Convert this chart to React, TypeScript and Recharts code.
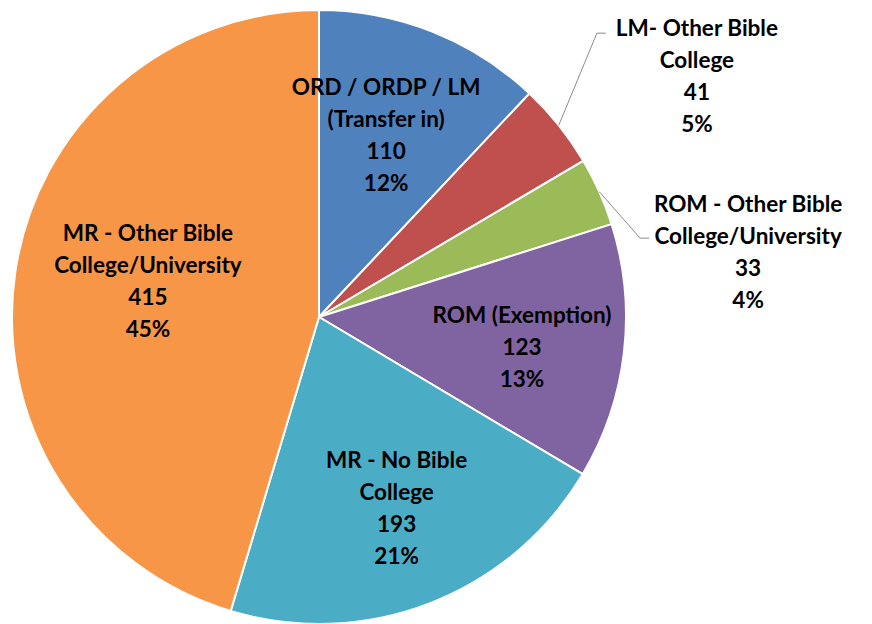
import { PieChart, Pie, Cell } from 'recharts'

const CATEGORIES = [
  'ORD / ORDP / LM\n(Transfer in)',
  'LM- Other Bible\nCollege',
  'ROM - Other Bible\nCollege/University',
  'ROM (Exemption)',
  'MR - No Bible\nCollege',
  'MR - Other Bible\nCollege/University',
]
const VALUES = [110, 41, 33, 123, 193, 415]
const COLORS = ['#4F81BD', '#C0504D', '#9BBB59', '#8064A2', '#4BACC6', '#F79646']

// label placement: polar radius factor + angle shift (deg, clockwise), outside labels get a leader
const LABEL_POS = [
  { out: false, r: 0.635, da: -1.5 },
  { out: true, r: 1.294, da: -6.95, tx: 100, ty: -6 },
  { out: true, r: 1.077, da: 10.3, tx: 108, ty: -35 },
  { out: false, r: 0.668, da: 1.5 },
  { out: false, r: 0.668, da: -1 },
  { out: false, r: 0.57, da: 3.8 },
]

const FONT = 'Lato, "Open Sans", sans-serif'
const FONT_SIZE = 22.5
const LINE_H = 32

// largest remainder so the shown percentages add up to 100
function roundedPercents(values: number[]) {
  const total = values.reduce((a, b) => a + b, 0)
  const raw = values.map((v) => (v / total) * 100)
  const out = raw.map(Math.floor)
  let left = 100 - out.reduce((a, b) => a + b, 0)
  const order = raw.map((v, i) => ({ i, rem: v - Math.floor(v) })).sort((a, b) => b.rem - a.rem)
  for (let k = 0; k < left; k++) out[order[k].i] += 1
  return out
}

const PERCENTS = roundedPercents(VALUES)

const data = CATEGORIES.map((name, i) => ({ name, value: VALUES[i], pct: PERCENTS[i] }))

function polar(cx: number, cy: number, r: number, theta: number) {
  const rad = (theta * Math.PI) / 180
  return { x: cx + r * Math.sin(rad), y: cy - r * Math.cos(rad) }
}

function SliceLabel(props: any) {
  const { cx, cy, midAngle, outerRadius, index } = props
  const d = data[index]
  const pos = LABEL_POS[index]
  const theta = 90 - midAngle
  const lines = [...d.name.split('\n'), String(d.value), `${d.pct}%`]

  let tx: number
  let firstY: number
  let leader = null
  if (pos.out) {
    const s = polar(cx, cy, outerRadius, theta)
    const e = polar(cx, cy, outerRadius * pos.r, theta + pos.da)
    leader = (
      <polyline
        points={`${s.x},${s.y} ${e.x},${e.y} ${e.x + 9},${e.y}`}
        fill="none"
        stroke="#8c8c8c"
        strokeWidth={1}
      />
    )
    tx = e.x + (pos.tx ?? 0)
    firstY = e.y + (pos.ty ?? 0)
  } else {
    const c = polar(cx, cy, outerRadius * pos.r, theta + pos.da)
    tx = c.x
    firstY = c.y - ((lines.length - 1) * LINE_H) / 2
  }

  return (
    <g>
      {leader}
      <text
        x={tx}
        y={firstY}
        textAnchor="middle"
        dominantBaseline="central"
        fontFamily={FONT}
        fontWeight={700}
        fontSize={FONT_SIZE}
        fill="#000"
      >
        {lines.map((ln, i) => (
          <tspan key={i} x={tx} y={firstY + i * LINE_H}>
            {ln}
          </tspan>
        ))}
      </text>
    </g>
  )
}

export default function App() {
  return (
    <div style={{ width: 872, height: 624, background: '#fff' }}>
      <style>{'body{margin:0}'}</style>
      <PieChart width={872} height={624} margin={{ top: 0, right: 0, bottom: 0, left: 0 }}>
        <Pie
          data={data}
          dataKey="value"
          nameKey="name"
          cx={319}
          cy={317}
          outerRadius={307}
          startAngle={90}
          endAngle={-270}
          stroke="#fff"
          strokeWidth={2}
          label={SliceLabel}
          labelLine={false}
          isAnimationActive={false}
        >
          {data.map((_, i) => (
            <Cell key={i} fill={COLORS[i]} />
          ))}
        </Pie>
      </PieChart>
    </div>
  )
}
